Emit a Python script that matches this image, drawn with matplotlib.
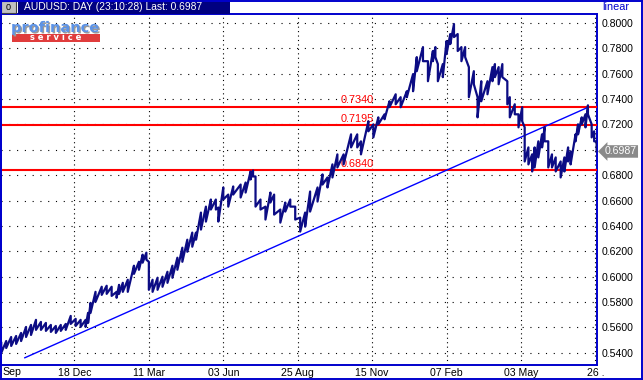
import matplotlib.pyplot as plt
import matplotlib.patches as mpatches
import matplotlib.transforms as mtransforms
import matplotlib.patheffects as pe
import numpy as np

plt.rcParams['font.family'] = ['Liberation Sans', 'DejaVu Sans']

W, H = 643, 380

# trading-day index and daily high / low
day = [1, 5, 9, 13, 17, 21, 25, 29, 33, 37, 41, 45, 49, 53, 57, 61, 65, 69, 71, 73,
       77, 82, 86, 90, 94, 96, 99, 103, 108, 112, 115, 118, 120, 123, 127, 131, 135, 139, 143, 147,
       151, 155, 158, 162, 166, 170, 174, 176, 180, 184, 188, 194, 198, 202, 204, 206, 210, 214, 218, 221,
       226, 230, 234, 238, 242, 246, 250, 256, 260, 264, 268, 272, 277, 283, 288, 291, 297, 301, 305, 310,
       314, 319, 323, 328, 333, 336, 341, 345, 349, 351, 353, 357, 360, 363, 366, 369, 372, 375, 378, 382,
       385, 388, 393, 397, 399, 402, 405, 409, 411, 415, 418, 421, 423, 426, 429, 431, 434, 437, 439, 442,
       445, 448, 452, 455, 458, 460, 464, 466, 469, 472, 474, 477, 479, 481]
high = [0.5477, 0.5492, 0.5524, 0.5532, 0.5556, 0.5603, 0.5619, 0.5659, 0.5643, 0.5635,
        0.5619, 0.5611, 0.5619, 0.5627, 0.5690, 0.5667, 0.5659, 0.5659, 0.5714, 0.5793,
        0.5880, 0.5920, 0.5928, 0.5920, 0.5880, 0.5935, 0.5951, 0.5975, 0.6086, 0.6117,
        0.6173, 0.6189, 0.6117, 0.5975, 0.5991, 0.5999, 0.6038, 0.6086, 0.6149, 0.6228,
        0.6291, 0.6347, 0.6347, 0.6505, 0.6552, 0.6608, 0.6608, 0.6545, 0.6703, 0.6647,
        0.6711, 0.6726, 0.6742, 0.6829, 0.6837, 0.6790, 0.6608, 0.6552, 0.6663, 0.6647,
        0.6529, 0.6584, 0.6608, 0.6552, 0.6465, 0.6505, 0.6671, 0.6703, 0.6806, 0.6782,
        0.6885, 0.6964, 0.6964, 0.7122, 0.7122, 0.7067, 0.7225, 0.7201, 0.7256, 0.7280,
        0.7383, 0.7438, 0.7415, 0.7462, 0.7597, 0.7731, 0.7810, 0.7699, 0.7779, 0.7810,
        0.7676, 0.7676, 0.7858, 0.7913, 0.7992, 0.7913, 0.7810, 0.7810, 0.7652, 0.7620,
        0.7415, 0.7541, 0.7541, 0.7652, 0.7676, 0.7652, 0.7676, 0.7541, 0.7415, 0.7359,
        0.7280, 0.7336, 0.7177, 0.7019, 0.6964, 0.7019, 0.7067, 0.7122, 0.7177, 0.7067,
        0.6964, 0.6940, 0.6908, 0.6940, 0.7019, 0.6987, 0.7122, 0.7201, 0.7256, 0.7280,
        0.7351, 0.7201, 0.7146, 0.7067]
low = [0.5398, 0.5437, 0.5453, 0.5469, 0.5492, 0.5524, 0.5540, 0.5580, 0.5580, 0.5572,
       0.5564, 0.5556, 0.5572, 0.5580, 0.5627, 0.5611, 0.5603, 0.5603, 0.5635, 0.5714,
       0.5801, 0.5856, 0.5864, 0.5848, 0.5833, 0.5864, 0.5880, 0.5880, 0.6022, 0.6054,
       0.6110, 0.6133, 0.5896, 0.5880, 0.5896, 0.5920, 0.5951, 0.5991, 0.6054, 0.6117,
       0.6196, 0.6236, 0.6291, 0.6371, 0.6434, 0.6529, 0.6529, 0.6434, 0.6608, 0.6552,
       0.6647, 0.6624, 0.6663, 0.6766, 0.6790, 0.6552, 0.6529, 0.6450, 0.6584, 0.6489,
       0.6426, 0.6513, 0.6552, 0.6450, 0.6355, 0.6394, 0.6513, 0.6592, 0.6726, 0.6703,
       0.6782, 0.6861, 0.6885, 0.7019, 0.7019, 0.6964, 0.7146, 0.7098, 0.7201, 0.7241,
       0.7336, 0.7359, 0.7336, 0.7415, 0.7462, 0.7620, 0.7699, 0.7541, 0.7699, 0.7731,
       0.7541, 0.7573, 0.7755, 0.7834, 0.7889, 0.7779, 0.7699, 0.7731, 0.7415, 0.7517,
       0.7256, 0.7383, 0.7438, 0.7541, 0.7573, 0.7517, 0.7573, 0.7359, 0.7256, 0.7280,
       0.7177, 0.7225, 0.6908, 0.6885, 0.6829, 0.6861, 0.6940, 0.7019, 0.7067, 0.6861,
       0.6861, 0.6829, 0.6782, 0.6829, 0.6908, 0.6885, 0.7067, 0.7122, 0.7201, 0.7177,
       0.7280, 0.7098, 0.7067, 0.6987]

levels = [0.7340, 0.7195, 0.6840]
level_labels = ["0.7340", "0.7195", "0.6840"]

trend_day = [20, 474]
trend_val = [0.5360, 0.7335]

last_price = 0.6987
last_label = "0.6987"

xtick_pos = [60, 120, 180, 240, 300, 360, 420, 480]
xtick_lab = ["18 Dec", "11 Mar", "03 Jun", "25 Aug", "15 Nov", "07 Feb", "03 May", "26 ."]
ytick_pos = [0.54, 0.56, 0.58, 0.60, 0.62, 0.64, 0.66, 0.68, 0.70, 0.72, 0.74, 0.76, 0.78, 0.80]

navy = '#0c0c84'
frame_blue = '#0000cc'

fig = plt.figure(figsize=(W / 100, H / 100), dpi=100)
ax = fig.add_axes([1 / W, 15 / H, 596 / W, 351 / H])

# price bars drawn as a zig-zag between high and low
xs = np.repeat(day, 2)
ys = np.column_stack([high, low]).ravel()
ax.plot(xs, ys, color=navy, lw=1.6, zorder=4)

# support / resistance levels
for lv, lab in zip(levels, level_labels):
    ax.axhline(lv, color='#ff0000', lw=1.5, zorder=3)
    tr = mtransforms.offset_copy(ax.transData, fig=fig, y=1.0, units='points')
    ax.text(274.5, lv, lab, color='#ff0000', fontsize=7.8, ha='left', va='bottom',
            transform=tr, zorder=2)

ax.plot(trend_day, trend_val, color='#0000ff', lw=1.0, zorder=3)

ax.set_xlim(0.8, 481.3)
ax.set_ylim(0.5303, 0.8071)

ax.set_xticks(xtick_pos)
ax.set_xticklabels(xtick_lab)
ax.set_yticks(ytick_pos)
# the last-price marker takes the place of the 0.7000 label
ax.set_yticklabels(['' if abs(v - last_price) < 0.01 else '%.4f' % v for v in ytick_pos])
ax.yaxis.tick_right()
ax.tick_params(axis='y', length=0, pad=3.6, labelsize=7.6)
ax.tick_params(axis='x', length=0, pad=2.5, labelsize=7.6)
ax.xaxis.grid(True, color='black', lw=0.8, linestyle=(0, (1, 3)))
ax.yaxis.grid(True, color='black', lw=0.8, linestyle=(0, (1, 6)))
ax.set_axisbelow(True)
for s in ax.spines.values():
    s.set_color(frame_blue)
    s.set_linewidth(1.4)

fig.text(2 / W, 1 - 367 / H, 'Sep', fontsize=7.6, va='top', ha='left')

# last price marker
tr = mtransforms.offset_copy(mtransforms.blended_transform_factory(ax.transAxes, ax.transData),
                             fig=fig, x=5.5, units='points')
ax.text(1.0, last_price, last_label, transform=tr, color='white', fontsize=7.6,
        ha='left', va='center', clip_on=False,
        bbox=dict(boxstyle='larrow,pad=0.12', fc='#8a8a8a', ec='none'))

fig.text(602 / W, 1 - 7.5 / H, 'linear', color=frame_blue, fontsize=7.8, va='center', ha='left')


def px_rect(x0, y0, x1, y1, **kw):
    r = mpatches.Rectangle((x0 / W, 1 - y1 / H), (x1 - x0) / W, (y1 - y0) / H,
                           transform=fig.transFigure, **kw)
    fig.add_artist(r)


# window frame and title bar
px_rect(18, 0, 230, 13.5, fc='#000080', ec='none')
fig.text(24 / W, 1 - 7 / H, 'AUDUSD: DAY (23:10:28) Last: 0.6987', color='white',
         fontsize=7.4, va='center', ha='left')
px_rect(1, 1, 16, 13, fc='#c0c0c0', ec='#404040', lw=0.8)
fig.text(8.5 / W, 1 - 7 / H, '0', fontsize=6.5, va='center', ha='center')
for (x0, y0, x1, y1) in [(0, 0.5, W, 0.5), (0, H - 0.7, W, H - 0.7),
                         (0.7, 0, 0.7, H), (W - 1, 0, W - 1, H)]:
    fig.add_artist(plt.Line2D([x0 / W, x1 / W], [1 - y0 / H, 1 - y1 / H],
                              transform=fig.transFigure, color=frame_blue, lw=1.4))

# logo
fig.text(11 / W, 1 - 32 / H, 'profinance', family='DejaVu Sans', weight='bold',
         fontsize=10.5, color='#5d93e6', va='baseline', ha='left',
         path_effects=[pe.withSimplePatchShadow(offset=(1, -1), shadow_rgbFace='#9a9a9a', alpha=1)])
px_rect(12, 34, 100, 42, fc='#e03c3c', ec='none')
fig.text(56 / W, 1 - 38 / H, 's e r v i c e', family='DejaVu Sans', weight='bold',
         fontsize=6, color='white', va='center', ha='center')

fig.savefig('out.png', dpi=100)
